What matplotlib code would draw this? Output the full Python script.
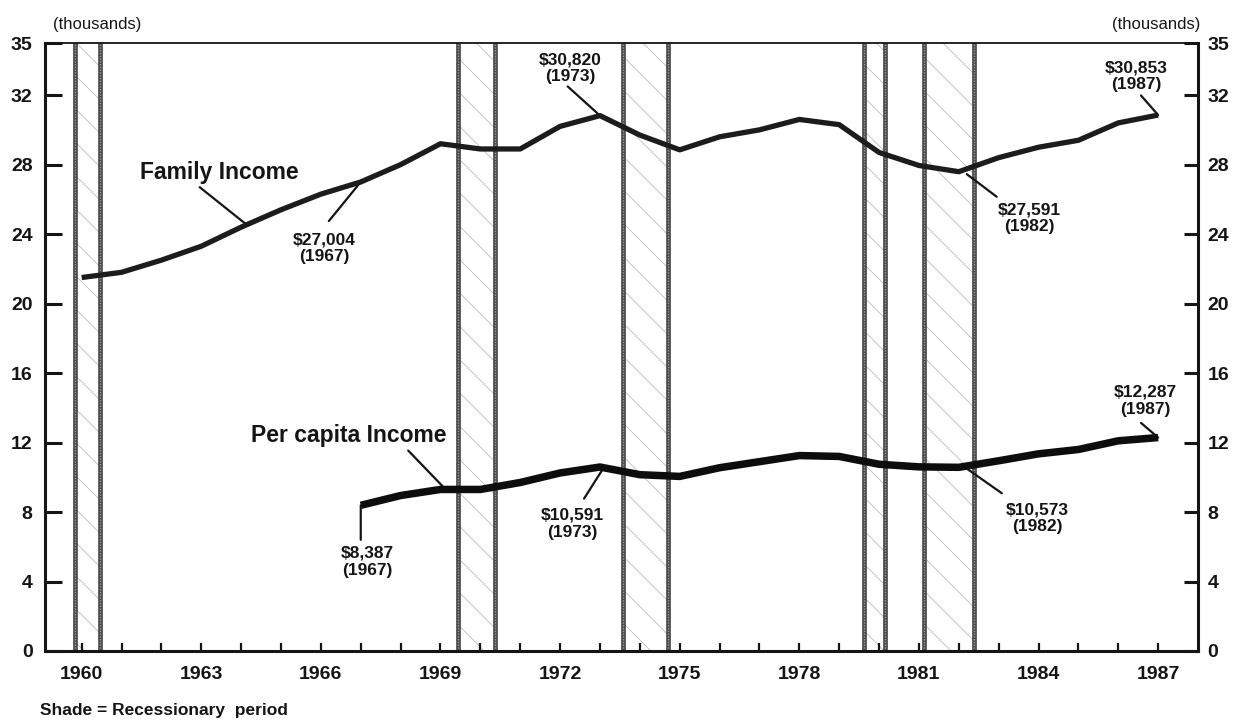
import matplotlib
matplotlib.use('Agg')
import matplotlib.pyplot as plt

plt.rcParams['font.family'] = ['Liberation Sans', 'DejaVu Sans']
plt.rcParams['hatch.linewidth'] = 0.6

# ---------------- data (thousands of 1987 dollars) ----------------
family_years = list(range(1960, 1988))
family_income = [21.5, 21.8, 22.5, 23.3, 24.4, 25.4, 26.3, 27.0, 28.0, 29.2,
                 28.9, 28.9, 30.2, 30.82, 29.7, 28.85, 29.6, 30.0, 30.6, 30.3,
                 28.7, 27.95, 27.591, 28.4, 29.0, 29.4, 30.4, 30.853]

percap_years = list(range(1967, 1988))
percap_income = [8.387, 8.95, 9.3, 9.3, 9.7, 10.25, 10.591, 10.15, 10.05, 10.55,
                 10.9, 11.25, 11.2, 10.75, 10.6, 10.573, 10.95, 11.35, 11.6, 12.1,
                 12.287]

recession_start = [1959.83, 1969.45, 1973.57, 1979.63, 1981.12]
recession_end = [1960.45, 1970.36, 1974.70, 1980.16, 1982.37]

x_tick_years = list(range(1960, 1988, 3))
y_ticks = [0, 4, 8, 12, 16, 20, 24, 28, 32, 35]

# callouts: (text, text position, pointer start, pointer end)
family_callouts = [
    ("$27,004\n(1967)", (1966.08, 23.2), (1966.2, 24.75), (1967, 27.004)),
    ("$30,820\n(1973)", (1972.26, 33.53), (1972.19, 32.5), (1973, 30.82)),
    ("$27,591\n(1982)", (1983.76, 24.9), (1982.95, 26.15), (1982.2, 27.45)),
    ("$30,853\n(1987)", (1986.46, 33.07), (1986.57, 31.98), (1987, 30.853)),
]
percap_callouts = [
    ("$8,387\n(1967)", (1967.16, 5.14), (1967.0, 6.4), (1967, 8.387)),
    ("$10,591\n(1973)", (1972.30, 7.33), (1972.6, 8.77), (1973.05, 10.4)),
    ("$10,573\n(1982)", (1983.96, 7.66), (1983.08, 9.08), (1982.2, 10.5)),
    ("$12,287\n(1987)", (1986.67, 14.4), (1986.57, 13.13), (1987, 12.287)),
]

# ---------------- figure ----------------
fig = plt.figure(figsize=(12.39, 7.22), dpi=100)
ax = fig.add_axes([0.03632, 0.09834, 0.93059, 0.8421])
ax.set_xlim(1959.08, 1988.0)
ax.set_ylim(0, 35)

ink = '#151515'

# recession bands
for a, b in zip(recession_start, recession_end):
    ax.axvspan(a, b, facecolor='white', edgecolor='#bdbdbd', hatch='\\',
               linewidth=0, zorder=1)
    for xv in (a, b):
        ax.axvline(xv, color='#4a4a4a', lw=3.4, zorder=2)
        ax.axvline(xv, color='#9a9a9a', lw=1.0, zorder=2,
                   linestyle=(0, (1.0, 1.0)))

# series
ax.plot(family_years, family_income, color='#1c1c1c', lw=3.8, zorder=5,
        solid_joinstyle='round', solid_capstyle='butt')
ax.plot(percap_years, percap_income, color='#0d0d0d', lw=5.4, zorder=5,
        solid_joinstyle='round', solid_capstyle='butt')

# series names
ax.text(1963.44, 27.52, 'Family Income', ha='center', va='center',
        fontsize=16.5, fontweight='bold', color=ink, zorder=6)
ax.annotate('', xy=(1964.16, 24.5), xytext=(1962.96, 26.7),
            arrowprops=dict(arrowstyle='-', lw=1.6, color=ink,
                            shrinkA=0, shrinkB=0), zorder=3)
ax.text(1966.70, 12.43, 'Per capita Income', ha='center', va='center',
        fontsize=16.5, fontweight='bold', color=ink, zorder=6)
ax.annotate('', xy=(1969.13, 9.3), xytext=(1968.19, 11.54),
            arrowprops=dict(arrowstyle='-', lw=1.6, color=ink,
                            shrinkA=0, shrinkB=0), zorder=3)

for txt, tpos, p0, p1 in family_callouts + percap_callouts:
    ax.text(tpos[0], tpos[1], txt, ha='center', va='center', fontsize=12.5,
            fontweight='bold', color=ink, linespacing=1.15, zorder=6)
    ax.annotate('', xy=p1, xytext=p0,
                arrowprops=dict(arrowstyle='-', lw=1.6, color=ink,
                                shrinkA=0, shrinkB=0), zorder=3)

# axes styling
for side in ('left', 'right', 'bottom'):
    ax.spines[side].set_linewidth(2.2)
    ax.spines[side].set_color(ink)
ax.spines['top'].set_linewidth(1.3)
ax.spines['top'].set_color(ink)

ax.set_xticks(x_tick_years, labels=[str(y) for y in x_tick_years],
              fontsize=14, fontweight='bold')
ax.set_xticks(family_years, minor=True)
ax.tick_params(axis='x', which='both', direction='in', length=6, width=1.6,
               color=ink, pad=11, labelcolor=ink)

ax.set_yticks(y_ticks, labels=[str(v) for v in y_ticks], fontsize=14,
              fontweight='bold')
ax.tick_params(axis='y', direction='in', length=12, width=2.2, color=ink,
               pad=9, labelcolor=ink)

ax2 = ax.twinx()
ax2.set_ylim(0, 35)
ax2.set_yticks(y_ticks, labels=[str(v) for v in y_ticks], fontsize=14,
               fontweight='bold')
ax2.tick_params(axis='y', direction='in', length=10, width=2.2, color=ink,
                pad=7, labelcolor=ink)
for side in ('left', 'right', 'bottom', 'top'):
    ax2.spines[side].set_visible(False)

fig.text(97 / 1239, 1 - 24 / 722, '(thousands)', ha='center', va='center',
         fontsize=12, color=ink)
fig.text(1156 / 1239, 1 - 24 / 722, '(thousands)', ha='center', va='center',
         fontsize=12, color=ink)
fig.text(40 / 1239, 1 - 711 / 722, 'Shade = Recessionary  period', ha='left',
         va='center', fontsize=12.5, fontweight='bold', color=ink)

fig.savefig('out.png', dpi=100, facecolor='white')
